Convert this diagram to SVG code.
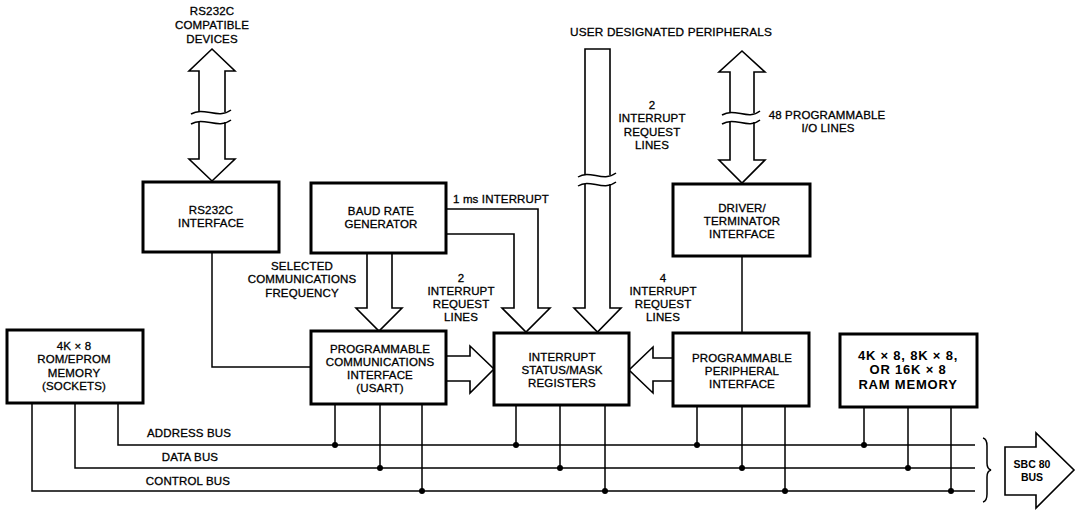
<svg xmlns="http://www.w3.org/2000/svg" width="1084" height="510" viewBox="0 0 1084 510">
<style>
.t{font-family:"Liberation Sans",Arial,sans-serif;font-size:11.5px;text-anchor:middle;fill:#000;stroke:#000;stroke-width:0.3;letter-spacing:0.15px}
.b{font-family:"Liberation Sans",Arial,sans-serif;font-weight:bold;text-anchor:middle;fill:#000}
.box{fill:#fff;stroke:#000;stroke-width:3}
.arr{fill:#fff;stroke:#000;stroke-width:1.6;stroke-linejoin:miter}
.ln{fill:none;stroke:#000;stroke-width:1.5}
.wv{fill:none;stroke:#000;stroke-width:1.5}
</style>
<rect width="1084" height="510" fill="#fff"/>

<g id="connectors">
  <!-- RS232C devices double arrow -->
  <path class="arr" d="M199,112 L199,71 L189,71 L212,49 L235,71 L225,71 L225,112"/>
  <path class="arr" d="M199,122 L199,159 L189,159 L212,181 L235,159 L225,159 L225,122"/>
  <path class="wv" d="M191,114 C204,106 218,120 231,110"/>
  <path class="wv" d="M191,124 C204,116 218,130 231,120"/>
  <!-- user designated peripherals -->
  <path class="arr" d="M585,175 L585,49 L610,49 L610,175"/>
  <path class="arr" d="M585,184 L585,308 L574,308 L597.5,332 L621,308 L610,308 L610,184"/>
  <path class="wv" d="M578,177 C590,169 603,183 616,173"/>
  <path class="wv" d="M578,186 C590,178 603,192 616,182"/>
  <!-- driver double arrow -->
  <path class="arr" d="M730,113 L730,72 L719,72 L742,51 L765,72 L754,72 L754,113"/>
  <path class="arr" d="M730,122 L730,160 L719,160 L742,183 L765,160 L754,160 L754,122"/>
  <path class="wv" d="M722,115 C735,107 748,121 760,111"/>
  <path class="wv" d="M722,124 C735,116 748,130 760,120"/>
  <!-- baud rate to USART -->
  <path class="arr" d="M367,253 L367,308 L356,308 L379,331 L402,308 L392,308 L392,253"/>
  <!-- baud rate to interrupt -->
  <path class="arr" d="M446,209 L538,209 L538,308 L550,308 L526,332 L502,308 L514,308 L514,234 L446,234"/>
  <!-- USART to interrupt -->
  <path class="arr" d="M446,356 L470,356 L470,346 L494,369 L470,393 L470,381 L446,381"/>
  <!-- PPI to interrupt -->
  <path class="arr" d="M673,358 L653,358 L653,347 L629,370 L653,393 L653,381 L673,381"/>
  <!-- single lines -->
  <path class="ln" d="M212,252 L212,367 L311,367"/>
  <path class="ln" d="M742,256 L742,333"/>
  <!-- buses -->
  <path class="ln" d="M118,403 L118,445 L975,445"/>
  <path class="ln" d="M75,403 L75,468 L975,468"/>
  <path class="ln" d="M32,403 L32,491 L975,491"/>
  <!-- taps -->
  <path class="ln" d="M335,404 V445 M380,404 V468 M422,404 V491 M516,405 V445 M560,405 V468 M605,405 V491 M697,406 V445 M742,406 V468 M785,406 V491 M864,407 V445 M908,407 V468 M951,407 V491"/>
  <g fill="#000">
    <circle cx="335" cy="445" r="3"/><circle cx="380" cy="468" r="3"/><circle cx="422" cy="491" r="3"/>
    <circle cx="516" cy="445" r="3"/><circle cx="560" cy="468" r="3"/><circle cx="605" cy="491" r="3"/>
    <circle cx="697" cy="445" r="3"/><circle cx="742" cy="468" r="3"/><circle cx="785" cy="491" r="3"/>
    <circle cx="864" cy="445" r="3"/><circle cx="908" cy="468" r="3"/><circle cx="951" cy="491" r="3"/>
  </g>
  <!-- brace -->
  <path class="ln" d="M983,438 Q987,439 987,446 L987,463 Q987,469 991,470 Q987,471 987,477 L987,494 Q987,501 983,502"/>
  <!-- SBC 80 bus arrow -->
  <path class="arr" d="M1005,447 L1036,447 L1036,433 L1074,470 L1036,508 L1036,495 L1005,495 Z"/>
  <text class="b" x="1032" y="468" font-size="10.5">SBC 80</text>
  <text class="b" x="1032" y="481" font-size="10.5">BUS</text>
  <!-- labels -->
  <text class="t" x="212" y="15">RS232C</text>
  <text class="t" x="212" y="29">COMPATIBLE</text>
  <text class="t" x="212" y="43">DEVICES</text>
  <text class="t" x="671" y="36" style="font-size:11.8px">USER DESIGNATED PERIPHERALS</text>
  <text class="t" x="652" y="109">2</text>
  <text class="t" x="652" y="122">INTERRUPT</text>
  <text class="t" x="652" y="136">REQUEST</text>
  <text class="t" x="652" y="149">LINES</text>
  <text class="t" x="827" y="119">48 PROGRAMMABLE</text>
  <text class="t" x="828" y="132">I/O LINES</text>
  <text class="t" x="501" y="203">1 ms INTERRUPT</text>
  <text class="t" x="302" y="270">SELECTED</text>
  <text class="t" x="302" y="283">COMMUNICATIONS</text>
  <text class="t" x="302" y="297">FREQUENCY</text>
  <text class="t" x="461" y="282">2</text>
  <text class="t" x="461" y="295">INTERRUPT</text>
  <text class="t" x="461" y="308">REQUEST</text>
  <text class="t" x="461" y="321">LINES</text>
  <text class="t" x="663" y="282">4</text>
  <text class="t" x="663" y="295">INTERRUPT</text>
  <text class="t" x="663" y="308">REQUEST</text>
  <text class="t" x="663" y="321">LINES</text>
  <text class="t" x="189" y="437">ADDRESS BUS</text>
  <text class="t" x="190" y="461">DATA BUS</text>
  <text class="t" x="188" y="485">CONTROL BUS</text>
</g>

<g id="rs232c-interface">
  <rect class="box" x="143" y="182" width="136" height="70"/>
  <text class="t" x="211" y="214">RS232C</text>
  <text class="t" x="211" y="227">INTERFACE</text>
</g>
<g id="baud-rate-generator">
  <rect class="box" x="311" y="183" width="135" height="70"/>
  <text class="t" x="381" y="215">BAUD RATE</text>
  <text class="t" x="381" y="228">GENERATOR</text>
</g>
<g id="driver-terminator">
  <rect class="box" x="673" y="184" width="137" height="72"/>
  <text class="t" x="742" y="212">DRIVER/</text>
  <text class="t" x="742" y="225">TERMINATOR</text>
  <text class="t" x="742" y="238">INTERFACE</text>
</g>
<g id="rom-memory">
  <rect class="box" x="7" y="330" width="136" height="73"/>
  <text class="t" x="74" y="350">4K × 8</text>
  <text class="t" x="74" y="363">ROM/EPROM</text>
  <text class="t" x="74" y="377">MEMORY</text>
  <text class="t" x="74" y="390">(SOCKETS)</text>
</g>
<g id="usart">
  <rect class="box" x="311" y="331" width="135" height="73"/>
  <text class="t" x="380" y="353">PROGRAMMABLE</text>
  <text class="t" x="380" y="366">COMMUNICATIONS</text>
  <text class="t" x="380" y="379">INTERFACE</text>
  <text class="t" x="380" y="392">(USART)</text>
</g>
<g id="interrupt-registers">
  <rect class="box" x="494" y="333" width="135" height="72"/>
  <text class="t" x="562" y="361">INTERRUPT</text>
  <text class="t" x="562" y="374">STATUS/MASK</text>
  <text class="t" x="562" y="387">REGISTERS</text>
</g>
<g id="ppi">
  <rect class="box" x="673" y="333" width="136" height="73"/>
  <text class="t" x="742" y="362">PROGRAMMABLE</text>
  <text class="t" x="742" y="375">PERIPHERAL</text>
  <text class="t" x="742" y="388">INTERFACE</text>
</g>
<g id="ram-memory">
  <rect class="box" x="840" y="334" width="137" height="73"/>
  <text class="b" x="908" y="360" font-size="13" letter-spacing="0.8">4K × 8, 8K × 8,</text>
  <text class="b" x="908" y="374" font-size="13" letter-spacing="0.8">OR 16K × 8</text>
  <text class="b" x="908" y="389" font-size="13" letter-spacing="0.8">RAM MEMORY</text>
</g>
</svg>
